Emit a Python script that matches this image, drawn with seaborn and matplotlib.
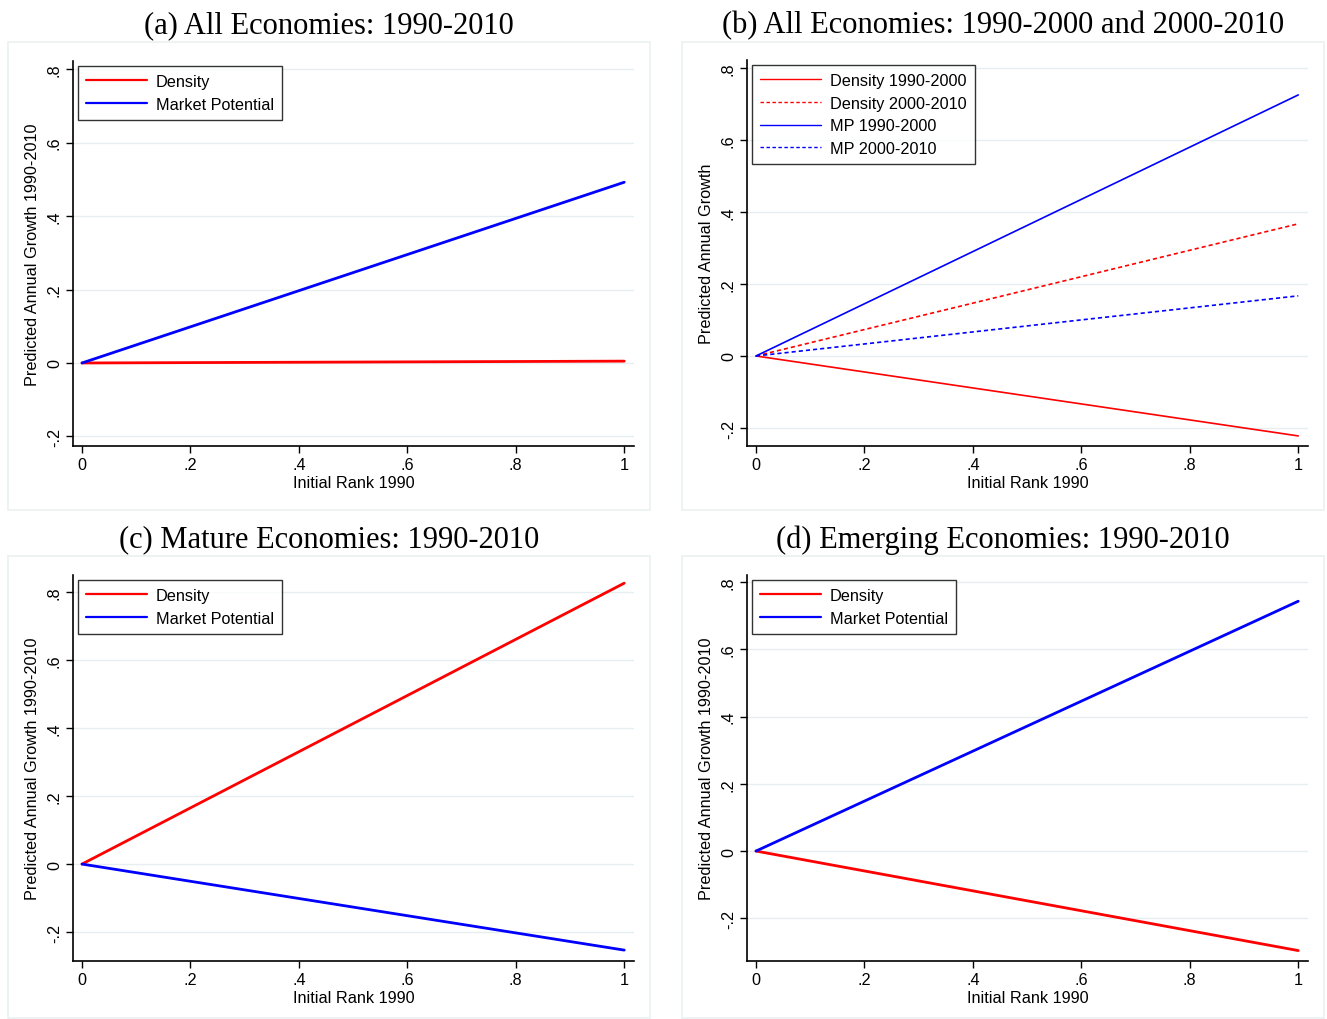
import matplotlib
matplotlib.use("Agg")
import matplotlib.pyplot as plt
import seaborn as sns
import pandas as pd
from matplotlib.patches import Rectangle

# Predicted growth lines: every series starts at 0 for rank 0 and ends at the value shown for rank 1
rank = [0.0, 1.0]

titles = [
    "(a) All Economies: 1990-2010",
    "(b) All Economies: 1990-2000 and 2000-2010",
    "(c) Mature Economies: 1990-2010",
    "(d) Emerging Economies: 1990-2010",
]
ylabels = [
    "Predicted Annual Growth 1990-2010",
    "Predicted Annual Growth",
    "Predicted Annual Growth 1990-2010",
    "Predicted Annual Growth 1990-2010",
]

a_density = [0.0, 0.005]
a_mp = [0.0, 0.492]

b_density_90 = [0.0, -0.222]
b_density_00 = [0.0, 0.367]
b_mp_90 = [0.0, 0.725]
b_mp_00 = [0.0, 0.167]

c_density = [0.0, 0.826]
c_mp = [0.0, -0.253]

d_density = [0.0, -0.296]
d_mp = [0.0, 0.743]

yticks = [-0.2, 0, 0.2, 0.4, 0.6, 0.8]
ytick_labels = ["-.2", "0", ".2", ".4", ".6", ".8"]
xticks = [0, 0.2, 0.4, 0.6, 0.8, 1]
xtick_labels = ["0", ".2", ".4", ".6", ".8", "1"]

dash = (0, (2.5, 1.8))
panels = [
    [("Density", a_density, "red", "-"), ("Market Potential", a_mp, "blue", "-")],
    [("Density 1990-2000", b_density_90, "red", "-"),
     ("Density 2000-2010", b_density_00, "red", dash),
     ("MP 1990-2000", b_mp_90, "blue", "-"),
     ("MP 2000-2010", b_mp_00, "blue", dash)],
    [("Density", c_density, "red", "-"), ("Market Potential", c_mp, "blue", "-")],
    [("Density", d_density, "red", "-"), ("Market Potential", d_mp, "blue", "-")],
]

sns.set_theme(style="white")
plt.rcParams["font.family"] = ["Liberation Sans", "DejaVu Sans"]
plt.rcParams["text.color"] = "black"
plt.rcParams["axes.labelcolor"] = "black"
plt.rcParams["xtick.color"] = "black"
plt.rcParams["ytick.color"] = "black"

W, H = 1327, 1020
fig = plt.figure(figsize=(W / 100, H / 100), dpi=100)

# pixel boxes: (left, top, right, bottom) of axes, and outer panel frame
ax_boxes = [(73, 62, 634, 447), (747, 61, 1308, 447), (73, 576, 634, 962), (747, 576, 1308, 962)]
frames = [(8, 43, 650, 511), (682, 43, 1324, 511), (8, 557, 650, 1019), (682, 557, 1324, 1019)]
ylims = [(-0.226, 0.822), (-0.25, 0.822), (-0.285, 0.85), (-0.327, 0.821)]
lws = [2.0, 1.2, 2.0, 2.0]
title_y = [26, 26, 540, 540]
fs = 11.7

for i in range(4):
    fl, ft, fr, fb = frames[i]
    fig.patches.append(Rectangle((fl / W, 1 - fb / H), (fr - fl) / W, (fb - ft) / H,
                                 transform=fig.transFigure, fill=False,
                                 edgecolor="#eaf0f0", linewidth=1.2))
    fig.text((fl + fr) / 2 / W, 1 - title_y[i] / H, titles[i], ha="center", va="center",
             fontsize=22, color="black", family=["Liberation Serif", "DejaVu Serif"])

    l, t, r, b = ax_boxes[i]
    ax = fig.add_axes([l / W, 1 - b / H, (r - l) / W, (b - t) / H])
    for name, vals, col, ls in panels[i]:
        df = pd.DataFrame({"rank": rank, "growth": vals})
        sns.lineplot(data=df, x="rank", y="growth", color=col, linestyle=ls,
                     linewidth=lws[i], label=name, ax=ax)
    ax.set_xlim(-0.0166, 1.018)
    ax.set_ylim(*ylims[i])
    ax.set_yticks(yticks)
    ax.set_yticklabels(ytick_labels, rotation=90, va="center")
    ax.set_xticks(xticks)
    ax.set_xticklabels(xtick_labels)
    ax.tick_params(axis="both", direction="out", length=5, width=1, color="black",
                   labelsize=fs, pad=3, left=True, bottom=True)
    ax.grid(axis="y", color="#e6eef0", linewidth=1)
    ax.grid(axis="x", visible=False)
    for s in ["top", "right"]:
        ax.spines[s].set_visible(False)
    for s in ["left", "bottom"]:
        ax.spines[s].set_color("black")
        ax.spines[s].set_linewidth(1.2)
    ax.set_xlabel("Initial Rank 1990", fontsize=fs, labelpad=2)
    ax.set_ylabel(ylabels[i], fontsize=fs, labelpad=5)
    leg = ax.legend(loc="upper left", frameon=True, fancybox=False, fontsize=fs,
                    handlelength=3.75, borderaxespad=0.3, borderpad=0.5,
                    labelspacing=0.47, handletextpad=0.55)
    leg.get_frame().set_edgecolor("black")
    leg.get_frame().set_linewidth(1)
    for h in leg.get_lines():
        h.set_linewidth(1.6 if i != 1 else 1.0)

fig.savefig("out.png", dpi=100)
